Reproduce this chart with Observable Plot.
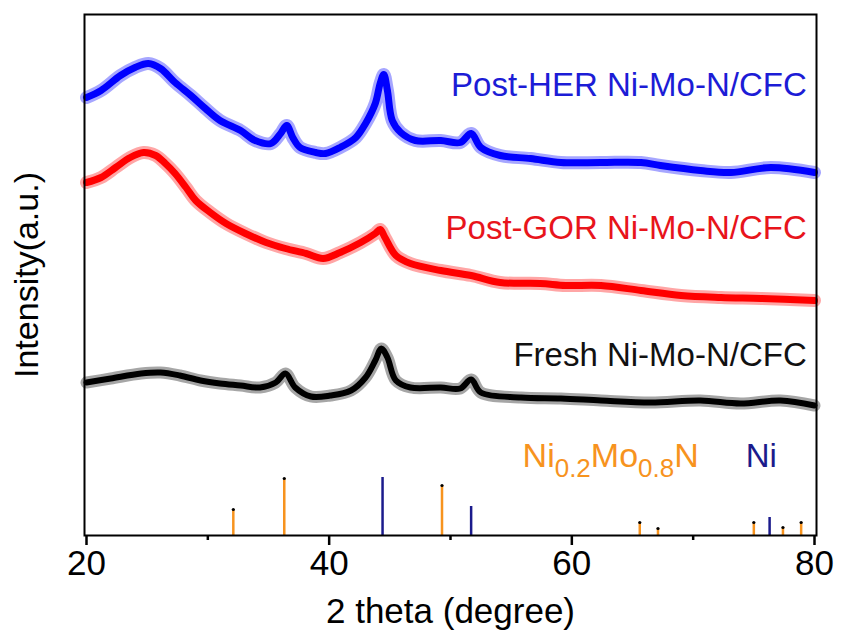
<!DOCTYPE html>
<html>
<head>
<meta charset="utf-8">
<script src="https://cdn.jsdelivr.net/npm/d3@7"></script>
<script src="https://cdn.jsdelivr.net/npm/@observablehq/plot@0.6"></script>
<style>
  html, body { margin: 0; padding: 0; background: white; }
  #chart { width: 841px; height: 637px; }
</style>
</head>
<body>
<div id="chart"></div>
<script>
// ---- Data (2θ in degrees, intensity in arbitrary units) ----
const herX = [20.0, 21.2, 22.8, 24.0, 25.1, 26.1, 27.3, 28.6, 29.8, 31.0, 32.7, 33.9, 35.2, 36.0, 36.5, 37.0, 37.6, 38.9, 39.7, 40.9, 42.2, 43.0, 43.8, 44.2, 44.5, 44.8, 45.2, 45.9, 47.1, 49.2, 50.8, 51.7, 52.5, 54.1, 56.6, 59.1, 62.4, 65.7, 67.3, 70.6, 73.1, 76.4, 80.0];
const herY = [438, 445, 460, 468, 472, 467, 453, 440, 427, 415, 405, 395, 392, 402, 410, 398, 388, 383, 382, 388, 398, 412, 432, 452, 461, 445, 415, 403, 395, 395, 393, 402, 388, 380, 377, 373, 373, 373, 370, 365, 363, 368, 363];

const gorX = [20.0, 21.2, 22.4, 23.6, 24.7, 25.7, 26.5, 27.3, 28.2, 29.0, 30.2, 31.5, 33.1, 34.8, 36.4, 38.1, 39.5, 40.9, 42.6, 43.8, 44.2, 44.6, 45.5, 46.7, 49.2, 51.7, 54.1, 57.4, 59.5, 62.4, 65.7, 69.0, 72.3, 75.6, 80.0];
const gorY = [353, 358, 368, 378, 383, 380, 372, 362, 348, 335, 323, 312, 302, 293, 287, 282, 277, 283, 293, 302, 306, 298, 280, 272, 265, 260, 253, 252, 250, 250, 245, 240, 238, 237, 235];

const freshX = [20.0, 22.0, 24.5, 26.1, 27.7, 29.4, 31.0, 32.7, 34.3, 35.6, 36.4, 37.2, 38.5, 40.1, 41.8, 43.0, 43.8, 44.3, 44.8, 45.5, 46.7, 49.2, 50.8, 51.7, 52.5, 55.8, 59.1, 62.4, 66.5, 70.6, 73.9, 77.2, 80.0];
const freshY = [153, 157, 162, 163, 160, 155, 152, 150, 148, 153, 162, 148, 139, 140, 145, 158, 175, 187, 178, 155, 148, 148, 147, 156, 143, 138, 137, 135, 133, 135, 132, 135, 130];

// Reference patterns (stick positions and relative heights)
const nimonX = [32.1, 36.3, 49.3, 65.6, 67.1, 75.0, 77.4, 78.9];
const nimonH = [26, 57, 50, 13, 7, 13, 8, 13];
const niX = [44.4, 51.7, 76.3];
const niH = [58, 29, 18];

const xMajorTicks = [20, 40, 60, 80];
const xMinorTicks = [30, 50, 70];
const seriesLabels = ["Post-HER Ni-Mo-N/CFC", "Post-GOR Ni-Mo-N/CFC", "Fresh Ni-Mo-N/CFC"];
const refLabels = ["Ni0.2Mo0.8N", "Ni"];

// ---- Build tables ----
const zip = (xs, ys) => xs.map((x, i) => ({x, y: ys[i]}));
const her = zip(herX, herY);
const gor = zip(gorX, gorY);
const fresh = zip(freshX, freshY);
const nimon = zip(nimonX, nimonH);
const ni = zip(niX, niH);

const FONT = "'Liberation Sans', Arial, Helvetica, sans-serif";
const ORANGE = "#f7931e";
const NAVY = "#1b1b8c";
const BLUE = "#0000ff";
const RED = "#ff0000";

const band = (data, color, halo, core) => [
  Plot.line(data, {x: "x", y: "y", stroke: color, strokeWidth: halo, strokeOpacity: 0.35, strokeLinejoin: "round", curve: "catmull-rom"}),
  Plot.line(data, {x: "x", y: "y", stroke: color, strokeWidth: core, strokeLinejoin: "round", curve: "catmull-rom"})
];

const chart = Plot.plot({
  width: 841,
  height: 637,
  marginLeft: 84,
  marginRight: 25,
  marginTop: 14,
  marginBottom: 102,
  x: {domain: [20, 80], insetLeft: 2, insetRight: 2},
  y: {domain: [0, 521]},
  style: {fontFamily: FONT, background: "white", color: "black", overflow: "visible"},
  marks: [
    ...band(her, BLUE, 13, 7),
    ...band(gor, RED, 13, 7),
    ...band(fresh, "#000000", 12, 6),
    Plot.ruleX(nimon, {x: "x", y1: 0, y2: "y", stroke: ORANGE, strokeWidth: 2.5}),
    Plot.ruleX(ni, {x: "x", y1: 0, y2: "y", stroke: NAVY, strokeWidth: 2.5}),
    Plot.dot(nimon, {x: "x", y: "y", r: 1.6, fill: "black", stroke: null}),
    Plot.text([seriesLabels[0]], {x: 79.36, y: 450, text: d => d, textAnchor: "end", fontSize: 33, fill: "#1c1cd6"}),
    Plot.text([seriesLabels[1]], {x: 79.36, y: 307, text: d => d, textAnchor: "end", fontSize: 33, fill: "#e8141b"}),
    Plot.text([seriesLabels[2]], {x: 79.36, y: 180, text: d => d, textAnchor: "end", fontSize: 33, fill: "#111"}),
    Plot.text([refLabels[0]], {x: 55.94, y: 79, text: d => d, textAnchor: "start", fontSize: 34, fill: ORANGE}),
    Plot.text([refLabels[1]], {x: 74.33, y: 79, text: d => d, textAnchor: "start", fontSize: 33, fill: NAVY}),
    Plot.frame({stroke: "black", strokeWidth: 2}),
    Plot.axisX({ticks: xMajorTicks, tickSize: 10, tickPadding: 5, fontSize: 35, strokeWidth: 2.5,
      label: "2 theta (degree)", labelAnchor: "center", labelOffset: 87, labelArrow: "none"}),
    Plot.axisX({ticks: xMinorTicks, tickSize: 5, tickFormat: () => "", strokeWidth: 2.5, label: null}),
    Plot.axisY({ticks: [], label: "Intensity(a.u.)", labelAnchor: "center", labelOffset: 71, fontSize: 34, labelArrow: "none"})
  ]
});

// subscript formatting for the reference-pattern label
chart.querySelectorAll("text").forEach(t => {
  if (t.textContent === "Ni0.2Mo0.8N") {
    t.innerHTML = 'Ni<tspan dy="10" font-size="26">0.2</tspan><tspan dy="-10">Mo</tspan><tspan dy="10" font-size="26">0.8</tspan><tspan dy="-10">N</tspan>';
  }
});

document.getElementById("chart").appendChild(chart);
</script>
</body>
</html>
